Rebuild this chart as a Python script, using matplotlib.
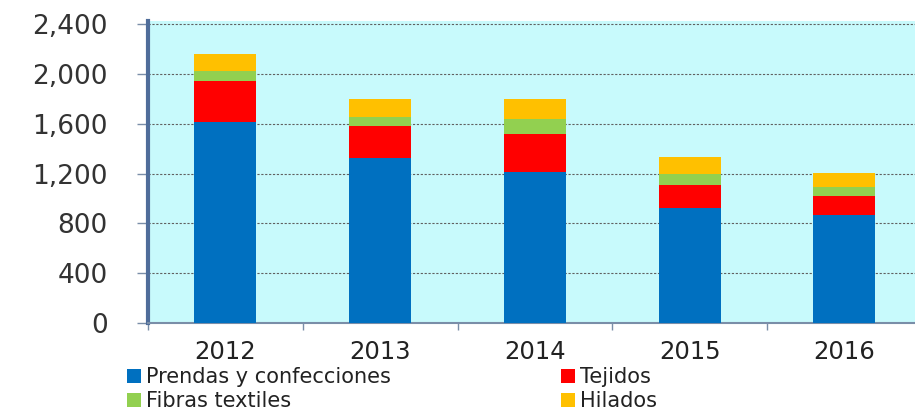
import numpy as np
import matplotlib
matplotlib.use("Agg")
import matplotlib.pyplot as plt
from matplotlib.ticker import FuncFormatter

years = ["2012", "2013", "2014", "2015", "2016"]
prendas = [1615, 1327, 1210, 920, 867]
tejidos = [327, 254, 307, 188, 152]
fibras = [80, 75, 120, 88, 70]
hilados = [135, 144, 160, 134, 117]

plt.rcParams['font.family'] = ['DejaVu Sans']

fig = plt.figure(figsize=(9.15, 4.11), dpi=100)
ax = fig.add_axes([148/915, 88/411, 1 - 148/915, 302/411])
ax.set_facecolor('#C8FAFC')

x = np.arange(len(years))
w = 0.4
b1 = np.array(prendas)
b2 = b1 + np.array(tejidos)
b3 = b2 + np.array(fibras)

ax.bar(x, prendas, w, color='#0070C0', label='Prendas y confecciones', zorder=3)
ax.bar(x, fibras, w, bottom=b2, color='#92D050', label='Fibras textiles', zorder=3)
ax.bar(x, tejidos, w, bottom=b1, color='#FF0000', label='Tejidos', zorder=3)
ax.bar(x, hilados, w, bottom=b3, color='#FFC000', label='Hilados', zorder=3)

ax.set_ylim(0, 2425)
ax.set_xlim(-0.5, 4.456)
ax.set_yticks(range(0, 2401, 400))
ax.yaxis.set_major_formatter(FuncFormatter(lambda v, p: f"{int(v):,}"))
ax.set_xticks(x)
ax.set_xticklabels(years)
ax.set_xticks(np.arange(-0.5, 4.5, 1), minor=True)
ax.tick_params(axis='x', which='major', length=0, pad=12, labelsize=17.5, colors='#222222')
ax.tick_params(axis='x', which='minor', length=5, color='#7a8ea8', width=1)
ax.tick_params(axis='y', length=8, width=1, color='#7a8ea8', pad=21, labelsize=19, labelcolor='#333333')

ax.grid(axis='y', linestyle=(0, (2, 1.5)), color='#606060', linewidth=0.8, zorder=1)

for s in ['top', 'right']:
    ax.spines[s].set_visible(False)
ax.spines['left'].set_color('#4F6D9A')
ax.spines['left'].set_linewidth(3)
ax.spines['bottom'].set_color('#7a8ea8')
ax.spines['bottom'].set_linewidth(1.5)

handles, labels = ax.get_legend_handles_labels()
leg = fig.legend(handles, labels, ncol=2, loc='upper left',
                 bbox_to_anchor=(127/915, 1 - 367/411), frameon=False,
                 fontsize=15, handlelength=0.65, handleheight=0.65,
                 handletextpad=0.25, columnspacing=8.2, labelspacing=0.2,
                 borderpad=0, borderaxespad=0)
for t in leg.get_texts():
    t.set_color('#222222')

fig.savefig("out.png", dpi=100)
